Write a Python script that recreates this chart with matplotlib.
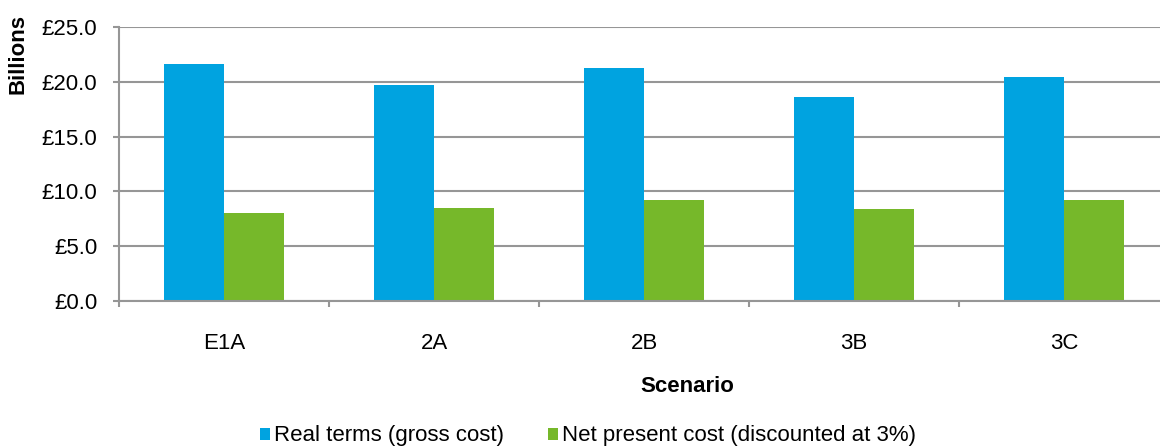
import matplotlib.pyplot as plt
import numpy as np

plt.rcParams['font.family'] = ['Liberation Sans', 'DejaVu Sans']

# scenario costs, £ billions
scenarios = ['E1A', '2A', '2B', '3B', '3C']
real_terms = [21.6, 19.7, 21.3, 18.6, 20.4]
net_present = [8.0, 8.5, 9.2, 8.4, 9.2]
series_labels = ['Real terms (gross cost)', 'Net present cost (discounted at 3%)']
blue = '#00A3E0'
green = '#76B82A'
grey = '#969696'
fs = 16

fig = plt.figure(figsize=(11.6, 4.46), dpi=100)
# plot area runs slightly past the right edge of the figure
ax = fig.add_axes([119 / 1160, 145 / 446, 1050 / 1160, 274 / 446])

x = np.arange(len(scenarios))
w = 0.286
ax.bar(x - w / 2, real_terms, width=w, color=blue, label=series_labels[0], zorder=3)
ax.bar(x + w / 2, net_present, width=w, color=green, label=series_labels[1], zorder=3)

ax.set_xlim(-0.5, len(scenarios) - 0.5)
ax.set_ylim(0, 25)
ax.set_yticks(np.arange(0, 26, 5))
ax.set_yticklabels([f'£{v:.1f}' for v in np.arange(0, 26, 5)])
ax.yaxis.grid(True, color=grey, linewidth=1.5, zorder=0)

# category ticks sit between the groups, labels at group centres
ax.set_xticks(np.arange(-0.5, len(scenarios), 1.0))
ax.set_xticklabels([])
ax.set_xticks(x, minor=True)
ax.set_xticklabels(scenarios, minor=True)
ax.tick_params(axis='x', which='minor', length=0, pad=23, labelsize=fs)
ax.tick_params(axis='x', which='major', length=4.5, width=1.5, color=grey)
ax.tick_params(axis='y', length=4.5, width=1.5, color=grey, labelsize=fs, pad=11)

for s in ['top', 'right']:
    ax.spines[s].set_visible(False)
for s in ['left', 'bottom']:
    ax.spines[s].set_color(grey)
    ax.spines[s].set_linewidth(1.5)
    ax.spines[s].set_zorder(4)

fig.text(18 / 1160, 1 - 54 / 446, 'Billions', rotation=90,
         fontsize=fs, fontweight='bold', ha='center', va='center')
fig.text(687 / 1160, 1 - 386 / 446, 'Scenario', fontsize=fs, fontweight='bold',
         ha='center', va='center')

fig.legend(loc='center', bbox_to_anchor=(588 / 1160, 1 - 436 / 446), ncol=2,
           frameon=False, fontsize=fs, handlelength=0.45, handleheight=0.45,
           handletextpad=0.15, columnspacing=2.0, borderaxespad=0)

plt.savefig('out.png', dpi=100)
